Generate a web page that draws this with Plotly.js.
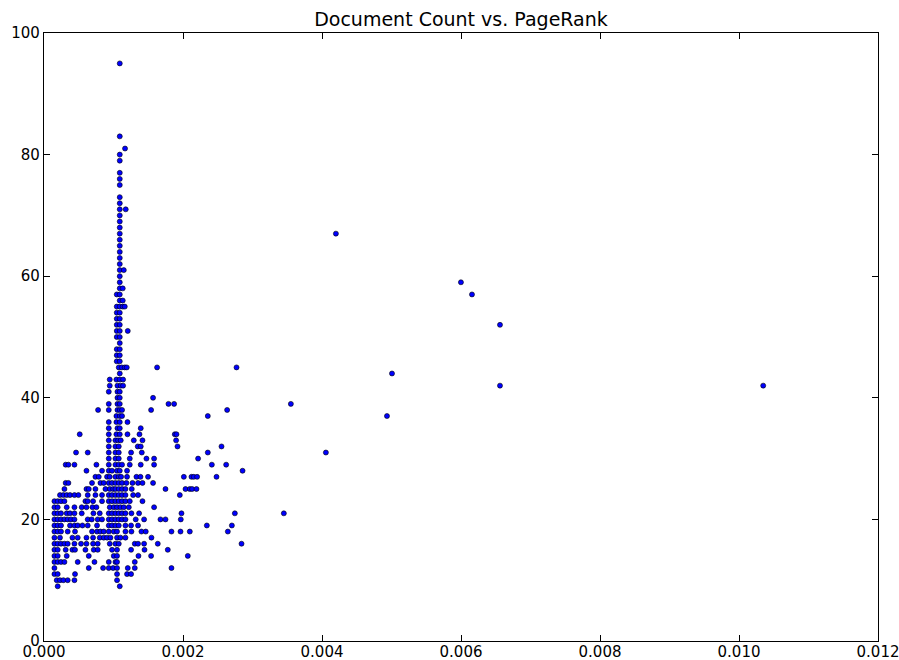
<!DOCTYPE html>
<html>
<head>
<meta charset="utf-8">
<script src="https://cdn.plot.ly/plotly-3.0.1.min.js"></script>
<style>
  html, body { margin: 0; padding: 0; background: #ffffff; }
  #chart { width: 899px; height: 660px; }
</style>
</head>
<body>
<div id="chart"></div>
<script>
// Document count levels (y values)
const countLevels = [
  9, 10, 11, 12, 13, 14, 15, 16, 17, 18, 19, 20, 21, 22, 23, 24, 25, 26, 27, 28,
  29, 30, 31, 32, 33, 34, 35, 36, 37, 38, 39, 40, 41, 42, 43, 44, 45, 46, 47, 48,
  49, 50, 51, 52, 53, 54, 55, 56, 57, 58, 59, 60, 61, 62, 63, 64, 65, 66, 67, 68,
  69, 70, 71, 72, 73, 75, 76, 77, 79, 80, 81, 83, 95
];

// PageRank values of the documents found at each count level (same order as countLevels)
const pageRankByLevel = [
  [1.97e-4, 10.90e-4],
  [1.83e-4, 2.30e-4, 2.79e-4, 3.41e-4, 4.38e-4, 10.51e-4],
  [1.50e-4, 1.97e-4, 4.46e-4, 10.51e-4, 11.95e-4, 12.53e-4],
  [1.50e-4, 6.44e-4, 8.50e-4, 9.32e-4, 9.94e-4, 10.51e-4, 12.05e-4, 13.06e-4, 18.34e-4],
  [1.50e-4, 1.97e-4, 2.45e-4, 2.94e-4, 4.85e-4, 7.26e-4, 9.32e-4, 10.28e-4, 10.51e-4, 13.06e-4],
  [1.50e-4, 1.97e-4, 3.27e-4, 6.44e-4, 10.04e-4, 10.51e-4, 13.59e-4, 15.41e-4, 20.69e-4],
  [1.50e-4, 1.97e-4, 3.12e-4, 4.09e-4, 4.46e-4, 5.96e-4, 7.16e-4, 7.73e-4, 9.79e-4, 10.51e-4, 12.53e-4, 14.46e-4, 17.81e-4],
  [1.50e-4, 1.97e-4, 2.45e-4, 2.94e-4, 3.41e-4, 4.38e-4, 5.33e-4, 6.11e-4, 7.06e-4, 7.73e-4, 9.46e-4, 10.28e-4, 10.76e-4, 13.06e-4, 13.53e-4, 14.40e-4, 16.37e-4, 28.42e-4],
  [1.50e-4, 2.30e-4, 4.09e-4, 4.85e-4, 6.11e-4, 7.06e-4, 8.02e-4, 8.60e-4, 9.07e-4, 9.56e-4, 10.51e-4, 11.00e-4, 11.72e-4, 15.46e-4],
  [1.50e-4, 1.97e-4, 2.45e-4, 3.41e-4, 4.46e-4, 6.91e-4, 7.63e-4, 8.12e-4, 8.60e-4, 9.32e-4, 10.04e-4, 10.51e-4, 11.72e-4, 12.58e-4, 14.02e-4, 14.64e-4, 18.34e-4, 19.64e-4, 20.98e-4, 26.45e-4],
  [1.50e-4, 1.97e-4, 2.45e-4, 3.74e-4, 4.38e-4, 4.85e-4, 5.53e-4, 6.29e-4, 7.63e-4, 9.32e-4, 9.79e-4, 10.28e-4, 10.76e-4, 11.72e-4, 12.53e-4, 13.53e-4, 23.43e-4, 27.03e-4],
  [1.50e-4, 1.97e-4, 2.45e-4, 2.94e-4, 3.41e-4, 3.89e-4, 4.38e-4, 6.29e-4, 6.87e-4, 7.73e-4, 8.35e-4, 9.32e-4, 9.79e-4, 10.28e-4, 10.76e-4, 11.23e-4, 11.72e-4, 13.20e-4, 14.40e-4, 16.76e-4, 17.48e-4, 19.68e-4],
  [1.50e-4, 1.97e-4, 2.45e-4, 3.27e-4, 3.74e-4, 4.38e-4, 5.43e-4, 7.11e-4, 8.02e-4, 9.32e-4, 9.79e-4, 10.28e-4, 10.76e-4, 11.23e-4, 11.72e-4, 12.58e-4, 13.68e-4, 19.78e-4, 27.46e-4, 34.51e-4],
  [1.50e-4, 1.97e-4, 3.27e-4, 4.38e-4, 5.43e-4, 6.11e-4, 6.97e-4, 7.54e-4, 9.46e-4, 10.04e-4, 10.51e-4, 11.00e-4, 11.48e-4, 12.20e-4, 15.84e-4],
  [1.50e-4, 1.97e-4, 2.45e-4, 2.94e-4, 5.96e-4, 6.29e-4, 7.06e-4, 8.35e-4, 9.32e-4, 9.79e-4, 10.28e-4, 10.76e-4, 11.23e-4, 11.72e-4, 12.34e-4, 14.17e-4],
  [2.30e-4, 2.79e-4, 3.27e-4, 3.74e-4, 4.38e-4, 4.95e-4, 6.29e-4, 7.40e-4, 8.35e-4, 9.32e-4, 9.79e-4, 10.28e-4, 10.76e-4, 11.23e-4, 11.72e-4, 12.82e-4, 13.53e-4, 19.54e-4],
  [2.94e-4, 6.11e-4, 6.44e-4, 7.40e-4, 8.84e-4, 9.46e-4, 9.94e-4, 10.28e-4, 10.76e-4, 11.23e-4, 11.72e-4, 12.63e-4, 17.48e-4, 20.36e-4, 20.98e-4, 21.31e-4, 21.94e-4],
  [3.12e-4, 3.51e-4, 6.91e-4, 8.12e-4, 8.60e-4, 9.32e-4, 9.79e-4, 10.28e-4, 10.76e-4, 11.23e-4, 11.86e-4, 12.73e-4, 13.53e-4, 14.17e-4, 15.69e-4],
  [7.40e-4, 7.88e-4, 9.07e-4, 9.46e-4, 10.28e-4, 10.76e-4, 11.09e-4, 11.95e-4, 13.30e-4, 13.88e-4, 14.97e-4, 20.12e-4, 21.22e-4, 21.55e-4, 22.03e-4, 24.82e-4],
  [6.11e-4, 8.35e-4, 9.32e-4, 9.79e-4, 10.51e-4, 10.90e-4, 11.95e-4, 28.57e-4],
  [3.12e-4, 3.51e-4, 4.38e-4, 7.54e-4, 9.32e-4, 10.28e-4, 10.76e-4, 11.23e-4, 12.34e-4, 13.92e-4, 15.84e-4, 24.15e-4, 26.21e-4],
  [9.32e-4, 10.28e-4, 10.76e-4, 12.34e-4, 14.74e-4, 15.84e-4, 22.17e-4],
  [4.61e-4, 6.29e-4, 9.32e-4, 10.28e-4, 10.76e-4, 12.53e-4, 14.07e-4, 23.57e-4, 40.56e-4],
  [9.32e-4, 10.28e-4, 10.76e-4, 13.49e-4, 13.92e-4, 19.21e-4, 25.54e-4],
  [9.32e-4, 10.28e-4, 10.66e-4, 11.04e-4, 12.92e-4, 14.17e-4, 19.01e-4],
  [5.14e-4, 9.32e-4, 10.42e-4, 10.90e-4, 12.01e-4, 13.74e-4, 18.82e-4, 19.06e-4],
  [9.32e-4, 10.57e-4, 10.90e-4, 13.92e-4],
  [9.32e-4, 10.42e-4, 10.90e-4, 12.01e-4],
  [10.42e-4, 10.90e-4, 11.23e-4, 23.57e-4, 49.35e-4],
  [7.78e-4, 9.32e-4, 10.57e-4, 10.90e-4, 11.23e-4, 15.41e-4, 26.35e-4],
  [9.32e-4, 10.57e-4, 10.90e-4, 17.91e-4, 18.72e-4, 35.52e-4],
  [10.57e-4, 10.90e-4, 15.69e-4],
  [9.32e-4, 10.57e-4, 10.90e-4],
  [9.46e-4, 10.57e-4, 11.04e-4, 11.38e-4, 65.61e-4, 103.48e-4],
  [9.46e-4, 10.42e-4, 10.90e-4, 11.38e-4],
  [10.90e-4, 50.07e-4],
  [10.76e-4, 11.19e-4, 11.62e-4, 11.91e-4, 16.27e-4, 27.70e-4],
  [10.47e-4, 10.90e-4],
  [10.47e-4, 10.90e-4],
  [10.47e-4, 10.90e-4],
  [10.90e-4],
  [10.47e-4, 10.90e-4],
  [10.47e-4, 10.90e-4, 12.05e-4],
  [10.47e-4, 10.90e-4, 65.61e-4],
  [10.47e-4, 10.90e-4],
  [10.47e-4, 10.90e-4],
  [10.47e-4, 10.90e-4, 11.33e-4, 11.62e-4],
  [10.90e-4, 11.33e-4],
  [10.47e-4, 10.90e-4, 61.58e-4],
  [10.90e-4, 11.33e-4],
  [10.90e-4, 59.99e-4],
  [10.90e-4],
  [10.90e-4, 11.48e-4],
  [10.90e-4],
  [10.90e-4],
  [10.90e-4],
  [10.90e-4],
  [10.90e-4],
  [10.90e-4, 42.00e-4],
  [10.90e-4],
  [10.90e-4],
  [10.90e-4],
  [10.90e-4, 11.76e-4],
  [10.90e-4],
  [10.90e-4],
  [10.90e-4],
  [10.90e-4],
  [10.90e-4],
  [10.90e-4],
  [10.90e-4],
  [11.66e-4],
  [10.90e-4],
  [10.90e-4]
];

const xTickValues = [0, 0.002, 0.004, 0.006, 0.008, 0.010, 0.012];
const xTickLabels = ['0.000', '0.002', '0.004', '0.006', '0.008', '0.010', '0.012'];
const yTickValues = [0, 20, 40, 60, 80, 100];
const yTickLabels = ['0', '20', '40', '60', '80', '100'];
const chartTitle = 'Document Count vs. PageRank';

// Build point lists
const xs = [], ys = [];
countLevels.forEach((c, i) => {
  pageRankByLevel[i].forEach(pr => { xs.push(pr); ys.push(c); });
});

const FONT = 'DejaVu Sans, Liberation Sans, sans-serif';

const trace = {
  type: 'scatter',
  mode: 'markers',
  x: xs,
  y: ys,
  marker: {
    color: '#0000ff',
    size: 5,
    line: { color: '#000000', width: 0.6 }
  },
  cliponaxis: false,
  hoverinfo: 'none'
};

const axisCommon = {
  showgrid: false,
  zeroline: false,
  showline: true,
  linecolor: '#000000',
  linewidth: 1.2,
  mirror: 'ticks',
  ticks: 'inside',
  ticklen: 6,
  tickwidth: 1,
  tickcolor: '#000000',
  tickfont: { family: FONT, size: 15, color: '#000000' },
  ticklabeloverflow: 'allow',
  fixedrange: true
};

const layout = {
  width: 899,
  height: 660,
  margin: { l: 44, r: 21, t: 33, b: 19, pad: 0 },
  paper_bgcolor: '#ffffff',
  plot_bgcolor: '#ffffff',
  showlegend: false,
  title: {
    text: chartTitle,
    font: { family: FONT, size: 19, color: '#000000' },
    xref: 'paper', x: 0.5, xanchor: 'center',
    yref: 'container', y: 0.971, yanchor: 'middle'
  },
  xaxis: Object.assign({}, axisCommon, {
    range: [0, 0.012],
    tickmode: 'array',
    tickvals: xTickValues,
    ticktext: xTickLabels,
    ticklabelstandoff: -3
  }),
  yaxis: Object.assign({}, axisCommon, {
    range: [0, 100],
    tickmode: 'array',
    tickvals: yTickValues,
    ticktext: yTickLabels
  })
};

Plotly.newPlot('chart', [trace], layout, { staticPlot: true, displayModeBar: false });
</script>
</body>
</html>
